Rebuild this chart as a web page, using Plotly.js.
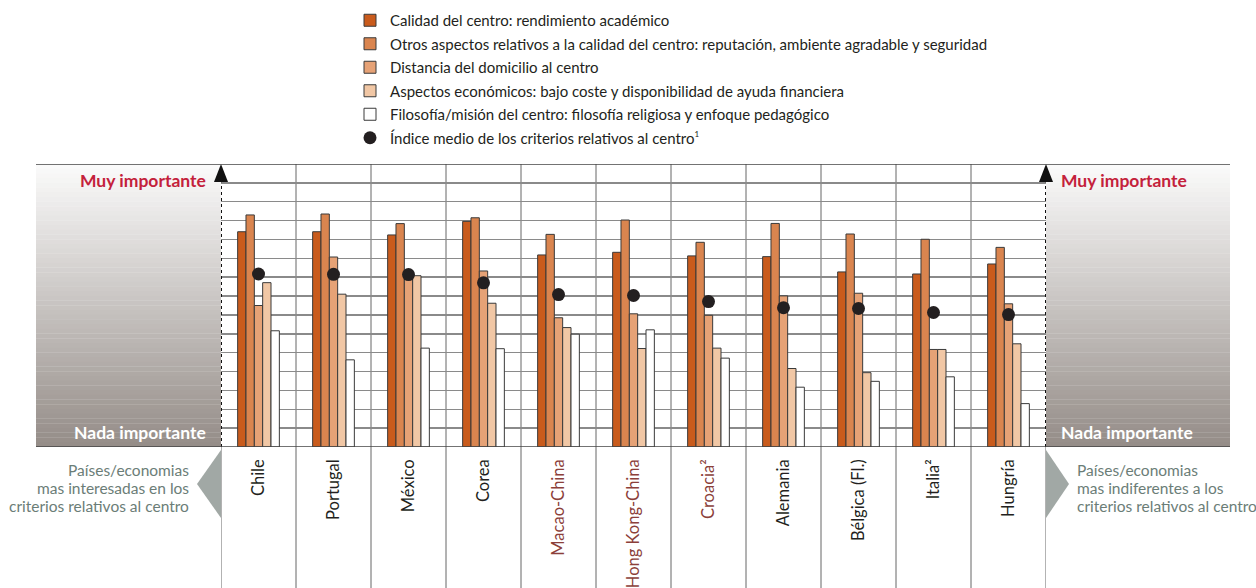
<!DOCTYPE html>
<html>
<head>
<meta charset="utf-8">
<script src="https://cdn.plot.ly/plotly-3.0.1.min.js"></script>
<style>html,body{margin:0;padding:0;background:#fff;}#chart{width:1256px;height:588px;}</style>
</head>
<body>
<div id="chart"></div>
<script>
// ---- data (in grid units 0..15) ----
const countries = ['Chile','Portugal','México','Corea','Macao-China','Hong Kong-China','Croacia²','Alemania','Bélgica (Fl.)','Italia²','Hungría'];
const highlighted = ['Macao-China','Hong Kong-China','Croacia²'];
const calidad    = [11.41, 11.41, 11.24, 11.96, 10.18, 10.32, 10.13, 10.09, 9.28, 9.17, 9.70];
const otros      = [12.30, 12.35, 11.84, 12.15, 11.27, 12.03, 10.85, 11.85, 11.29, 11.01, 10.58];
const distancia  = [7.50, 10.07, 9.10, 9.33, 6.85, 7.06, 6.98, 8.01, 8.15, 5.17, 7.59];
const economicos = [8.71, 8.10, 9.08, 7.62, 6.33, 5.22, 5.24, 4.16, 3.94, 5.17, 5.47];
const filosofia  = [6.16, 4.62, 5.24, 5.21, 5.98, 6.21, 4.71, 3.17, 3.48, 3.72, 2.30];
const indice     = [9.17, 9.15, 9.14, 8.70, 8.08, 8.03, 7.71, 7.38, 7.34, 7.13, 7.02];

const seriesNames = [
  'Calidad del centro: rendimiento académico',
  'Otros aspectos relativos a la calidad del centro: reputación, ambiente agradable y seguridad',
  'Distancia del domicilio al centro',
  'Aspectos económicos: bajo coste y disponibilidad de ayuda financiera',
  'Filosofía/misión del centro: filosofía religiosa y enfoque pedagógico'
];
const indiceName = 'Índice medio de los criterios relativos al centro<sup><span style="font-size:8px">1</span></sup>';
const seriesValues = [calidad, otros, distancia, economicos, filosofia];
const seriesColors = ['#c95b1c', '#da854f', '#e6a276', '#f1c7a5', '#ffffff'];
const leftNote  = ['Países/economias', 'mas interesadas en los', 'criterios relativos al centro'];
const rightNote = ['Países/economias', 'mas indiferentes a los', 'criterios relativos al centro'];

// ---- layout geometry ----
const W = 1256, H = 588;
const M = {l: 221, r: 210, t: 164, b: 141, autoexpand: false};
const PW = W - M.l - M.r, PH = H - M.t - M.b;
const px = v => (v - M.l) / PW;          // pixel x -> paper x
const py = v => (H - M.b - v) / PH;      // pixel y -> paper y
const FONT = 'Lato, "Open Sans", sans-serif';

const traces = seriesValues.map((vals, i) => ({
  type: 'bar', x: countries, y: vals, name: seriesNames[i],
  legendgroup: 'g' + i,
  marker: {color: seriesColors[i], line: {color: '#3a3a3a', width: 1}},
  hoverinfo: 'skip'
}));
traces.push({
  type: 'scatter', mode: 'markers', x: countries, y: indice, name: indiceName,
  legendgroup: 'g5',
  marker: {color: '#231f20', size: 13},
  hoverinfo: 'skip'
});

const shapes = [];
// gradient side panels
const N = 60;
const gTop = [251, 251, 251], gBot = [148, 140, 135];
for (let k = 0; k < N; k++) {
  const t = (k + 0.5) / N;
  const c = gTop.map((a, j) => Math.round(a + (gBot[j] - a) * t));
  const col = `rgb(${c[0]},${c[1]},${c[2]})`;
  const y1 = 1 - k / N, y0 = 1 - (k + 1) / N;
  shapes.push({type: 'rect', xref: 'paper', yref: 'paper', x0: px(36), x1: 0, y0: y0, y1: y1 + 0.001, fillcolor: col, line: {width: 0}, layer: 'below'});
  shapes.push({type: 'rect', xref: 'paper', yref: 'paper', x0: 1, x1: px(1230), y0: y0, y1: y1 + 0.001, fillcolor: col, line: {width: 0}, layer: 'below'});
}
// vertical separators inside the plot
for (let i = 1; i < countries.length; i++) {
  shapes.push({type: 'line', xref: 'x', yref: 'paper', x0: i - 0.5, x1: i - 0.5, y0: -0.5, y1: 1, line: {color: '#666', width: 1}, layer: 'below'});
}
// separators in the label band at outer edges
[-0.5, countries.length - 0.5].forEach(x => {
  shapes.push({type: 'line', xref: 'x', yref: 'paper', x0: x, x1: x, y0: -0.5, y1: 0, line: {color: '#666', width: 1}, layer: 'above'});
  // dotted axis arrows
  shapes.push({type: 'line', xref: 'x', yref: 'y', x0: x, x1: x, y0: 0, y1: 14, line: {color: '#111', width: 2, dash: 'dot'}, layer: 'above'});
});
// arrow heads
[221, 1046].forEach(cx => {
  shapes.push({type: 'path', xref: 'paper', yref: 'paper',
    path: `M${px(cx - 7)},${py(182)} L${px(cx)},${py(164)} L${px(cx + 7)},${py(182)} Z`,
    fillcolor: '#111', line: {width: 0}, layer: 'above'});
});
// top & bottom long lines
[15, 0].forEach(y => {
  shapes.push({type: 'line', xref: 'paper', yref: 'y', x0: px(36), x1: px(1230), y0: y, y1: y, line: {color: '#444', width: 1.5}, layer: 'above'});
});
// grey pointer triangles
shapes.push({type: 'path', xref: 'paper', yref: 'paper',
  path: `M${px(221)},${py(450)} L${px(197)},${py(484)} L${px(221)},${py(518)} Z`, fillcolor: '#a1a8a5', line: {width: 0}});
shapes.push({type: 'path', xref: 'paper', yref: 'paper',
  path: `M${px(1046)},${py(450)} L${px(1069)},${py(484)} L${px(1046)},${py(518)} Z`, fillcolor: '#a1a8a5', line: {width: 0}});

const redC = '#c4213b', sideC = '#6b7d77';
const annotations = [
  {text: '<b>Muy importante</b>', x: px(208), xanchor: 'right', y: py(180), yanchor: 'middle', font: {color: redC, size: 17.5}},
  {text: '<b>Muy importante</b>', x: px(1059), xanchor: 'left', y: py(180), yanchor: 'middle', font: {color: redC, size: 17.5}},
  {text: '<b>Nada importante</b>', x: px(208), xanchor: 'right', y: py(432), yanchor: 'middle', font: {color: '#ffffff', size: 17.5}},
  {text: '<b>Nada importante</b>', x: px(1059), xanchor: 'left', y: py(432), yanchor: 'middle', font: {color: '#ffffff', size: 17.5}}
];
leftNote.forEach((t, i) => annotations.push({text: t, x: px(191), xanchor: 'right', y: py(470 + 18 * i), yanchor: 'middle', font: {color: sideC, size: 15.5}}));
rightNote.forEach((t, i) => annotations.push({text: t, x: px(1075), xanchor: 'left', y: py(470 + 18 * i), yanchor: 'middle', font: {color: sideC, size: 15.5}}));
annotations.forEach(a => Object.assign(a, {xref: 'paper', yref: 'paper', showarrow: false}));

const tickText = countries.map(c => highlighted.includes(c) ? `<span style="color:#8c3f3a">${c}</span>` : c);

const layout = {
  width: W, height: H,
  margin: M,
  paper_bgcolor: '#ffffff', plot_bgcolor: '#ffffff',
  font: {family: FONT, color: '#231f20', size: 14},
  barmode: 'group', bargap: 0.444, bargroupgap: 0,
  showlegend: true,
  legend: {x: px(350), xanchor: 'left', y: py(4), yanchor: 'top', bgcolor: 'rgba(0,0,0,0)',
           font: {family: FONT, size: 15, color: '#231f20'}, tracegroupgap: 1, traceorder: 'grouped', itemclick: false},
  xaxis: {type: 'category', range: [-0.5, countries.length - 0.5], tickmode: 'array', tickvals: countries, ticktext: tickText,
          tickangle: -90, showgrid: false, zeroline: false, showline: false, ticks: '', ticklabelstandoff: 8,
          tickfont: {family: FONT, size: 16.5, color: '#231f20'}, fixedrange: true},
  yaxis: {range: [0, 15], dtick: 1, tick0: 0, showgrid: true, gridcolor: '#8a8a8a', gridwidth: 1.5, zeroline: false,
          showticklabels: false, ticks: '', showline: false, fixedrange: true},
  shapes: shapes,
  annotations: annotations
};

Plotly.newPlot('chart', traces, layout, {displayModeBar: false, staticPlot: true});
</script>
</body>
</html>
